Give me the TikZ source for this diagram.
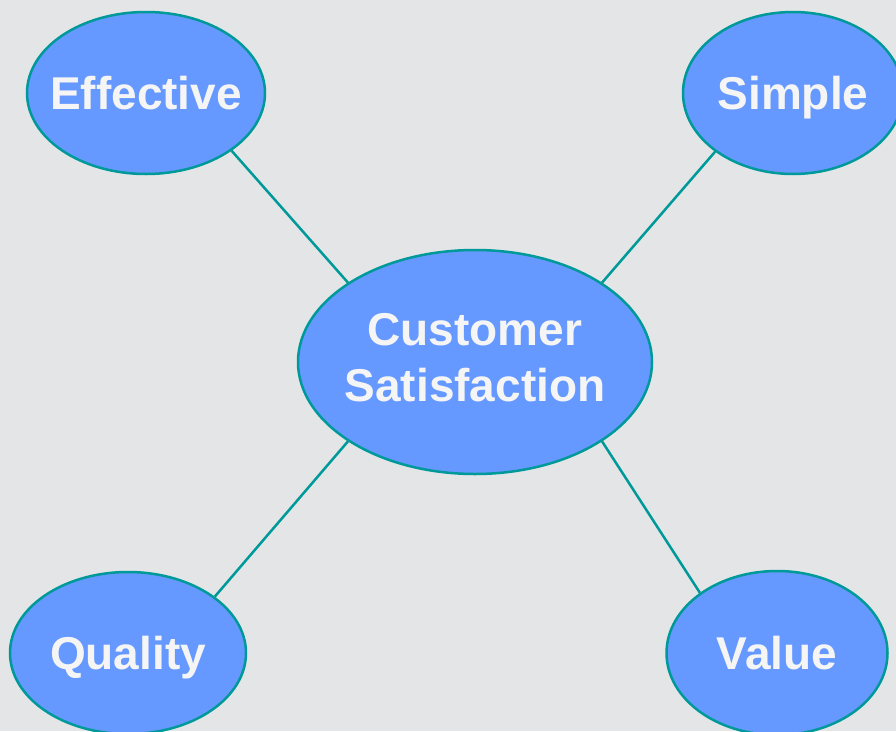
\documentclass[tikz,border=0pt]{standalone}
\usepackage{fontspec}
\setmainfont{Liberation Sans}
\usetikzlibrary{shapes.geometric}
\definecolor{bubblefill}{HTML}{6699FF}
\definecolor{bubbleline}{HTML}{009999}
\definecolor{marble}{HTML}{E3E5E7}
\newcommand{\thinlabel}[1]{\makebox[0pt]{#1}}

\begin{document}
\begin{tikzpicture}[x=1pt, y=-1pt]
\tikzset{bubble/.style={ellipse, draw=bubbleline, fill=bubblefill, line width=2.5pt, inner sep=0pt,
    text=white!96!black, font=\fontsize{46}{56}\selectfont\bfseries, text height=33pt, text depth=0pt},
  link/.style={draw=bubbleline, line width=2.5pt}}
\fill[marble] (0,0) rectangle (896,731);
\useasboundingbox (0,0) rectangle (896,731);
\clip (0,0) rectangle (896,731);

\node[bubble, minimum width=238pt, minimum height=162pt] (effective) at (146,93) {\thinlabel{Effective}};
\node[bubble, minimum width=220pt, minimum height=162pt] (simple) at (793,93) {\thinlabel{Simple}};
\node[bubble, minimum width=236pt, minimum height=162pt] (quality) at (128,653) {\thinlabel{Quality}};
\node[bubble, minimum width=221pt, minimum height=164pt] (value) at (777,653) {\thinlabel{Value}};
\node[bubble, minimum width=354pt, minimum height=224pt, text height=, text depth=] (satisfaction) at (475,362)
  {\thinlabel{\raisebox{-7pt}{\begin{tabular}{@{}c@{}}Customer\\Satisfaction\end{tabular}}}};

\draw[link] (effective.-34) -- (satisfaction.148);
\draw[link] (simple.217) -- (satisfaction.32);
\draw[link] (quality.33) -- (satisfaction.212);
\draw[link] (value.142) -- (satisfaction.-32);
\end{tikzpicture}
\end{document}
